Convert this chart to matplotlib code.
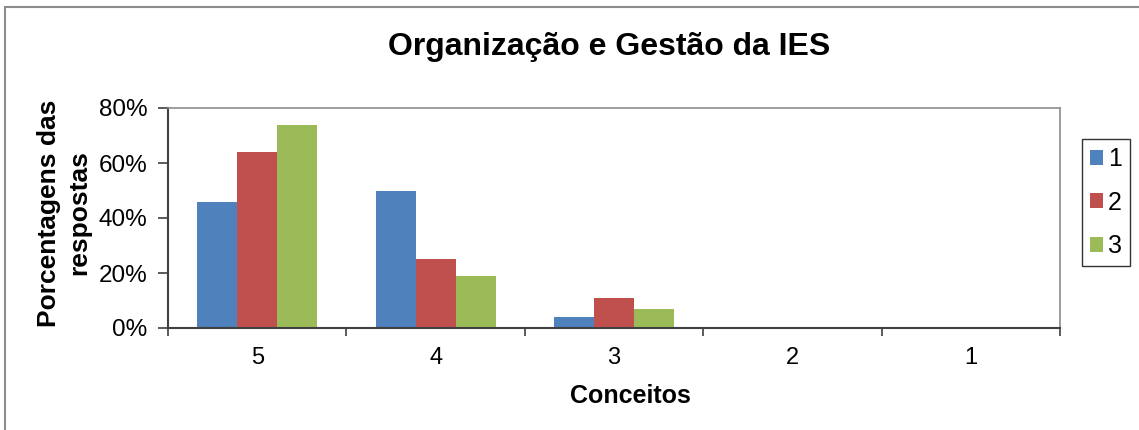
import numpy as np
import matplotlib.pyplot as plt
from matplotlib.patches import Rectangle

plt.rcParams['font.family'] = ['Liberation Sans', 'DejaVu Sans']

conceitos = ['5', '4', '3', '2', '1']
serie_1 = [46, 50, 4, 0, 0]
serie_2 = [64, 25, 11, 0, 0]
serie_3 = [74, 19, 7, 0, 0]
series = [('1', serie_1, '#4F81BD'), ('2', serie_2, '#C0504D'), ('3', serie_3, '#9BBB59')]

W, H = 1139, 430
fig = plt.figure(figsize=(W / 100, H / 100), dpi=100)
ax = fig.add_axes([168/W, 1 - 328/H, (1060-168)/W, (328-108)/H])

x = np.arange(len(conceitos))
w = 0.224
for i, (nome, vals, cor) in enumerate(series):
    ax.bar(x + (i - 1) * w, vals, width=w, color=cor, label=nome, zorder=2)

ax.set_xlim(-0.5, len(conceitos) - 0.5)
ax.set_ylim(0, 80)
ax.set_yticks([0, 20, 40, 60, 80])
ax.set_yticklabels(['%d%%' % v for v in [0, 20, 40, 60, 80]])
ax.set_xticks(x)
ax.set_xticklabels(conceitos)
ax.set_xticks(np.arange(len(conceitos) + 1) - 0.5, minor=True)
ax.tick_params(axis='x', which='major', length=0, pad=14, labelsize=17)
ax.tick_params(axis='x', which='minor', length=6, width=1.2, direction='out', color='#404040')
ax.tick_params(axis='y', length=7, width=1.2, direction='out', color='#404040', labelsize=17.5, pad=8)

for lado in ['top', 'right']:
    ax.spines[lado].set_color('#8C8C8C')
    ax.spines[lado].set_linewidth(1.2)
for lado in ['left', 'bottom']:
    ax.spines[lado].set_color('#404040')
    ax.spines[lado].set_linewidth(1.5)

fig.text(609/W, 1 - 47/H, 'Organização e Gestão da IES', fontsize=23, fontweight='bold',
         ha='center', va='center')
fig.text(630/W, 1 - 396/H, 'Conceitos', fontsize=18, fontweight='bold',
         ha='center', va='center')
fig.text(64/W, 1 - 213/H, 'Porcentagens das\nrespostas', fontsize=19, fontweight='bold',
         rotation=90, ha='center', va='center', multialignment='center', linespacing=1.3)

leg = ax.legend(loc='center left', bbox_to_anchor=(1.0247, 0.57), fontsize=18,
                frameon=True, fancybox=False, handlelength=0.52, handleheight=0.52,
                handletextpad=0.2, labelspacing=0.78, borderpad=0.32, borderaxespad=0)
leg.get_frame().set_edgecolor('black')
leg.get_frame().set_linewidth(1.0)

# moldura externa do gráfico
fig.patches.append(Rectangle((5/W, -0.01), 1.0, 1 - 7/H + 0.01, transform=fig.transFigure,
                             fill=False, edgecolor='#8C8C8C', linewidth=1.5))

fig.savefig('out.png', dpi=100)
